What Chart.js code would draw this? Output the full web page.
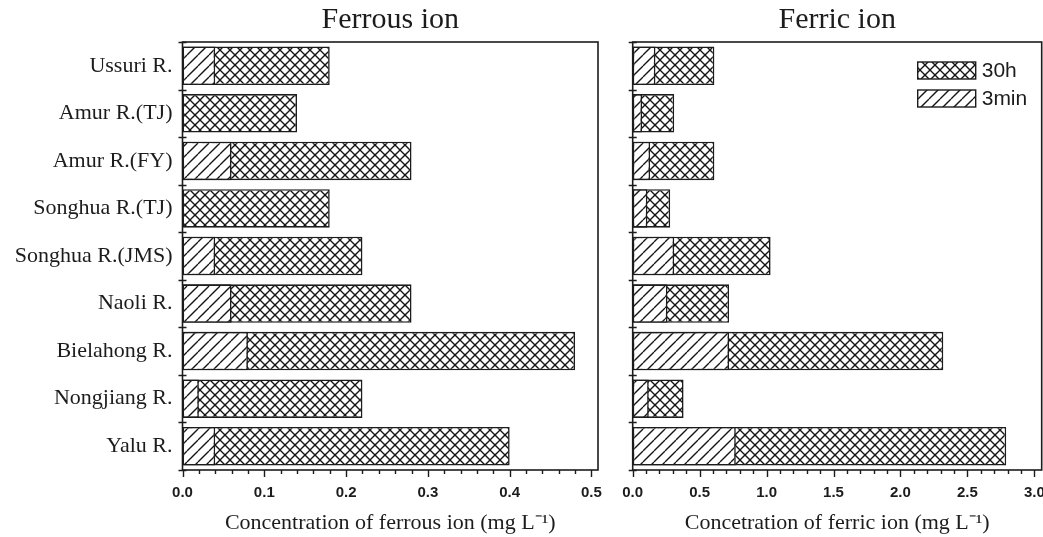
<!DOCTYPE html>
<html>
<head>
<meta charset="utf-8">
<script src="https://cdn.jsdelivr.net/npm/chart.js@4/dist/chart.umd.min.js"></script>
<style>
  html, body { margin: 0; padding: 0; background: #fff; }
  #wrap { position: relative; width: 1043px; height: 537px; overflow: hidden; }
  #left { position: absolute; left: 0; top: 0; }
  #right { position: absolute; left: 610px; top: 0; }
</style>
</head>
<body>
<div id="wrap">
  <canvas id="left" width="610" height="537"></canvas>
  <canvas id="right" width="433" height="537"></canvas>
</div>
<script>
// Sampling sites (top to bottom)
const rivers = [
  'Ussuri R.', 'Amur R.(TJ)', 'Amur R.(FY)', 'Songhua R.(TJ)', 'Songhua R.(JMS)',
  'Naoli R.', 'Bielahong R.', 'Nongjiang R.', 'Yalu R.'
];

// Ferrous ion, mg/L
const ferrous30h  = [0.18, 0.14, 0.28, 0.18, 0.22, 0.28, 0.48, 0.22, 0.40];
const ferrous3min = [0.04, 0.00, 0.06, 0.00, 0.04, 0.06, 0.08, 0.02, 0.04];

// Ferric ion, mg/L
const ferric30h  = [0.61, 0.31, 0.61, 0.28, 1.03, 0.72, 2.32, 0.38, 2.79];
const ferric3min = [0.17, 0.07, 0.13, 0.11, 0.31, 0.26, 0.72, 0.12, 0.77];

// Axis ranges and tick steps
const ferrousAxis = { max: 0.508, major: 0.1, minor: 0.02 };
const ferricAxis  = { max: 3.055, major: 0.5, minor: 0.1 };

const seriesNames = ['30h', '3min'];

const INK = '#1c1c1c';
const SERIF = "'Liberation Serif', 'Times New Roman', serif";
const SANS = "'Liberation Sans', Arial, sans-serif";

// Fill patterns: cross-hatch for 30h, single diagonal hatch for 3min
function makePattern(period, crossed) {
  const c = document.createElement('canvas');
  c.width = period; c.height = period;
  const g = c.getContext('2d');
  g.fillStyle = '#fff';
  g.fillRect(0, 0, period, period);
  g.strokeStyle = '#151515';
  g.lineWidth = 1.35;
  for (let k = -1; k <= 1; k++) {
    const o = k * period;
    // "/" lines
    g.beginPath();
    g.moveTo(o, period); g.lineTo(o + period, 0);
    g.stroke();
    if (crossed) {
      // "\" lines
      g.beginPath();
      g.moveTo(o, 0); g.lineTo(o + period, period);
      g.stroke();
    }
  }
  return g.createPattern(c, 'repeat');
}

const ctxL = document.getElementById('left').getContext('2d');
const crossFill = makePattern(10, true);
const hatchFill = makePattern(11, false);

// Frame, category separators and x-axis tick marks
const framePlugin = {
  id: 'frame',
  afterDraw(chart, args, opts) {
    const { ctx, chartArea: a, scales } = chart;
    const xs = scales.x, ys = scales.y;
    ctx.save();
    ctx.strokeStyle = INK;
    ctx.lineWidth = 1.6;
    ctx.strokeRect(a.left, a.top, a.right - a.left, a.bottom - a.top);

    ctx.lineWidth = 1.4;
    ctx.beginPath();
    const n = chart.data.labels.length;
    for (let i = 0; i <= n; i++) {
      const y = Math.round(ys.getPixelForValue(i - 0.5)) + 0.5;
      ctx.moveTo(a.left - 4, y);
      ctx.lineTo(a.left + 4, y);
    }
    ctx.stroke();

    const ax = opts.axis;
    ctx.lineWidth = 1.4;
    ctx.beginPath();
    const steps = Math.floor(ax.max / ax.minor + 1e-6);
    const per = Math.round(ax.major / ax.minor);
    for (let i = 0; i <= steps; i++) {
      const v = i * ax.minor;
      const x = Math.round(xs.getPixelForValue(v)) + 0.5;
      const len = (i % per === 0) ? 7 : 4;
      ctx.moveTo(x, a.bottom);
      ctx.lineTo(x, a.bottom + len);
    }
    ctx.stroke();
    ctx.restore();
  }
};

// Legend box inside the ferric panel
const legendPlugin = {
  id: 'boxLegend',
  afterDraw(chart, args, opts) {
    if (!opts.show) return;
    const { ctx, chartArea: a } = chart;
    const ds = chart.data.datasets;
    const boxW = 58, boxH = 17;
    const x0 = a.right - 124;
    ctx.save();
    ctx.font = '21px ' + SANS;
    ctx.textBaseline = 'middle';
    ctx.fillStyle = INK;
    ds.forEach((d, i) => {
      const y0 = a.top + 20 + i * 28;
      ctx.fillStyle = d.backgroundColor;
      ctx.fillRect(x0, y0, boxW, boxH);
      ctx.strokeStyle = INK;
      ctx.lineWidth = 1.4;
      ctx.strokeRect(x0, y0, boxW, boxH);
      ctx.fillStyle = INK;
      ctx.fillText(d.label, x0 + boxW + 6, y0 + boxH / 2 + 1);
    });
    ctx.restore();
  }
};

function buildChart(ctx, cfg) {
  return new Chart(ctx, {
    type: 'bar',
    data: {
      labels: rivers,
      datasets: [
        {
          label: seriesNames[0], data: cfg.long, order: 1,
          backgroundColor: crossFill, borderColor: INK, borderWidth: 1.6,
          borderSkipped: false
        },
        {
          label: seriesNames[1], data: cfg.short, order: 0,
          backgroundColor: hatchFill, borderColor: INK, borderWidth: 1.6,
          borderSkipped: false
        }
      ]
    },
    options: {
      responsive: false,
      animation: false,
      indexAxis: 'y',
      grouped: false,
      barPercentage: 0.81,
      categoryPercentage: 1.0,
      layout: { padding: { left: 0, right: cfg.padRight, top: 0, bottom: 0 } },
      plugins: {
        legend: { display: false },
        tooltip: { enabled: false },
        title: {
          display: true, text: cfg.title, fullSize: false,
          color: INK, font: { family: SERIF, size: 30, weight: 'normal' },
          padding: { top: 2, bottom: 4 }
        },
        frame: { axis: cfg.axis },
        boxLegend: { show: cfg.legend }
      },
      scales: {
        x: {
          type: 'linear', min: 0, max: cfg.axis.max,
          grid: { display: false, drawTicks: false },
          border: { display: false },
          ticks: {
            stepSize: cfg.axis.major, includeBounds: false, maxRotation: 0,
            padding: 14, color: INK,
            font: { family: SANS, size: 15, weight: 'bold' },
            callback: v => Number(v).toFixed(1)
          },
          title: {
            display: true, text: cfg.xTitle, color: INK,
            font: { family: SERIF, size: 22 },
            padding: { top: 8, bottom: 1 }
          },
          afterFit(s) { s.paddingLeft = 0; s.paddingRight = 0; s.height = 67; }
        },
        y: {
          type: 'category',
          offset: true,
          grid: { display: false, drawTicks: false, offset: true },
          border: { display: false },
          ticks: {
            display: cfg.showLabels, padding: 10, color: INK,
            font: { family: SERIF, size: 22 }
          },
          afterFit(s) { s.width = cfg.axisWidth; }
        }
      }
    },
    plugins: [framePlugin, legendPlugin]
  });
}

buildChart(ctxL, {
  title: 'Ferrous ion',
  xTitle: 'Concentration of ferrous ion (mg L\u207B\u00B9)',
  long: ferrous30h, short: ferrous3min,
  axis: ferrousAxis, axisWidth: 182.5, padRight: 12,
  showLabels: true, legend: false
});

buildChart(document.getElementById('right').getContext('2d'), {
  title: 'Ferric ion',
  xTitle: 'Concetration of ferric ion (mg L\u207B\u00B9)',
  long: ferric30h, short: ferric3min,
  axis: ferricAxis, axisWidth: 22.7, padRight: 1.3,
  showLabels: false, legend: true
});
</script>
</body>
</html>
